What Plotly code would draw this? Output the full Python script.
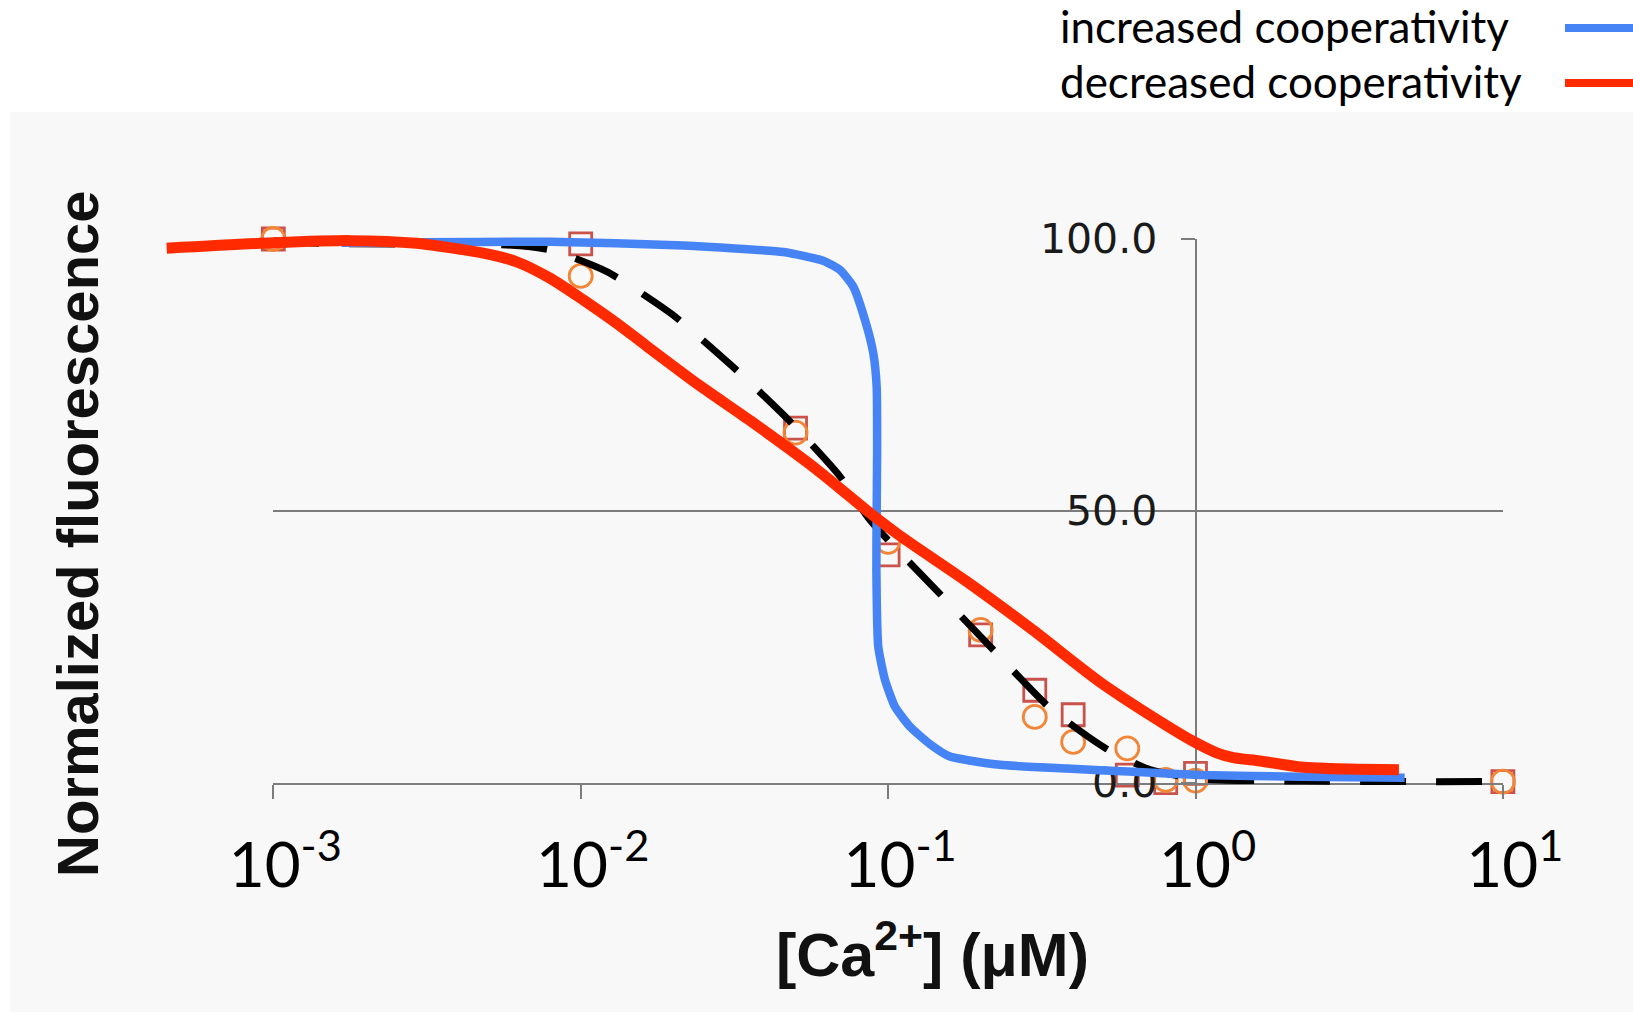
import plotly.graph_objects as go

# ---------------- data ----------------
conc_markers = [0.001, 0.01, 0.05, 0.1, 0.2, 0.3, 0.4, 0.6, 0.8, 1.0, 2.5, 10.0]
squares_y = [100.0, 99.1, 65.2, 41.9, 27.2, 17.0, 12.5, 1.4, 0.0, 1.7, -0.6, 0.2]
circles_y = [100.0, 93.2, 64.4, 44.3, 28.1, 12.1, 7.5, 6.3, 0.5, 0.4, -0.5, 0.2]

fit_x = [0.001, 0.001384, 0.005741, 0.007943, 0.01216, 0.01977, 0.03097, 0.0471,
         0.06982, 0.0873, 0.1493, 0.2228, 0.3365, 0.5082, 0.711, 1.035, 2.19, 4.62, 10.0]
fit_y = [99.7, 99.2, 98.9, 98.0, 94.0, 86.2, 76.7, 66.9,
         56.3, 48.3, 34.4, 24.1, 13.7, 6.4, 2.4, 0.7, 0.3, 0.2, 0.2]

inc_x = [0.001667, 0.00794, 0.0216, 0.0456, 0.0615, 0.0698, 0.0771, 0.0841, 0.0895,
         0.0918, 0.0921, 0.0918, 0.0916, 0.0929, 0.0977, 0.1052, 0.1178, 0.1368,
         0.159, 0.2312, 0.3811, 0.6277, 1.034, 2.188, 4.79]
inc_y = [99.3, 99.5, 98.8, 97.6, 96.0, 94.3, 91.2, 85.1, 79.0,
         72.8, 60.6, 50.2, 39.1, 25.0, 18.9, 14.0, 10.3, 7.1,
         4.8, 3.3, 2.6, 2.0, 1.4, 1.1, 0.9]

dec_x = [0.00045, 0.001, 0.001778, 0.002931, 0.004819, 0.006194, 0.007943, 0.01019,
         0.01309, 0.0164, 0.02443, 0.03556, 0.05861, 0.0873, 0.1094, 0.1802,
         0.2968, 0.4891, 0.8057, 0.9838, 1.172, 1.327, 1.621, 2.188, 3.182, 4.59]
dec_y = [98.3, 99.3, 99.7, 99.2, 97.4, 95.8, 92.8, 88.8,
         84.5, 80.3, 73.0, 66.6, 57.6, 49.6, 45.4, 37.0,
         28.0, 18.5, 10.5, 7.6, 5.5, 4.6, 4.0, 2.9, 2.5, 2.4]

x_tickvals = [0.001, 0.01, 0.1, 1, 10]
x_ticktext = ["10<sup>-3</sup>", "10<sup>-2</sup>", "10<sup>-1</sup>", "10<sup>0</sup>", "10<sup>1</sup>"]
y_tickvals = [0, 50, 100]
y_ticktext = ["0.0", "50.0", "100.0"]

legend_names = ["increased cooperativity", "decreased cooperativity"]

# ---------------- layout geometry ----------------
W, H = 1633, 1012
X0PX, DEC = 273.3, 307.4      # pixel of 10^-3 and pixels per decade
Y0PX, PXU = 782.7, 5.437      # pixel of y=0 and pixels per unit

BLUE = "#4684F6"
RED = "#FF2A00"
SQ_COL = "#C9524A"
CI_COL = "#F28536"
AXIS_COL = "#7c7c7c"

fig = go.Figure()

# markers on the visible axes subplot
fig.add_trace(go.Scatter(x=conc_markers, y=squares_y, mode="markers", cliponaxis=False,
                         marker=dict(symbol="square-open", size=22, color=SQ_COL,
                                     line=dict(width=2.8, color=SQ_COL)),
                         showlegend=False, xaxis="x", yaxis="y"))
fig.add_trace(go.Scatter(x=conc_markers, y=circles_y, mode="markers", cliponaxis=False,
                         marker=dict(symbol="circle-open", size=23, color=CI_COL,
                                     line=dict(width=2.8, color=CI_COL)),
                         showlegend=False, xaxis="x", yaxis="y"))

# curves on an overlay subplot sharing the same scale but covering the full page
fig.add_trace(go.Scatter(x=fit_x, y=fit_y, mode="lines",
                         line=dict(color="black", width=7, dash="46px,30px", shape="spline", smoothing=0.6),
                         showlegend=False, xaxis="x2", yaxis="y2"))
fig.add_trace(go.Scatter(x=inc_x, y=inc_y, mode="lines", name=legend_names[0],
                         line=dict(color=BLUE, width=8.5, shape="spline", smoothing=0.5),
                         showlegend=False, xaxis="x2", yaxis="y2"))
fig.add_trace(go.Scatter(x=dec_x, y=dec_y, mode="lines", name=legend_names[1],
                         line=dict(color=RED, width=11, shape="spline", smoothing=0.7),
                         showlegend=False, xaxis="x2", yaxis="y2"))

xd0 = X0PX / W
xd1 = (X0PX + 4 * DEC) / W
yd0 = 1 - Y0PX / H
yd1 = 1 - (Y0PX - 100 * PXU) / H

fig.update_layout(
    width=W, height=H,
    margin=dict(l=0, r=0, t=0, b=0, autoexpand=False),
    paper_bgcolor="white", plot_bgcolor="rgba(0,0,0,0)",
    xaxis=dict(type="log", domain=[xd0, xd1], range=[-3, 1], anchor="y", automargin=False,
               showline=True, linecolor=AXIS_COL, linewidth=2,
               ticks="outside", ticklen=14, tickwidth=2, tickcolor=AXIS_COL,
               tickvals=x_tickvals, ticktext=x_ticktext,
               tickfont=dict(family="Lato", size=62, color="black"),
               ticklabelstandoff=14, ticklabelshift=12,
               showgrid=False, zeroline=False),
    yaxis=dict(domain=[yd0, yd1], range=[0, 100], anchor="free", automargin=False,
               position=(X0PX + 3 * DEC) / W,
               showline=True, linecolor=AXIS_COL, linewidth=2,
               ticks="outside", ticklen=14, tickwidth=2, tickcolor=AXIS_COL,
               tickvals=y_tickvals, ticktext=y_ticktext,
               tickfont=dict(family="DejaVu Sans", size=41, color="#1a1a1a"),
               ticklabelstandoff=15,
               showgrid=True, gridcolor=AXIS_COL, gridwidth=2, zeroline=False),
    xaxis2=dict(type="log", domain=[0, 1], automargin=False,
                range=[-3 - X0PX / DEC, -3 + (W - X0PX) / DEC],
                visible=False, anchor="y2"),
    yaxis2=dict(domain=[0, 1], range=[(Y0PX - H) / PXU, Y0PX / PXU], automargin=False,
                visible=False, anchor="x2"),
)

# light textured-looking background panel
fig.add_shape(type="rect", xref="paper", yref="paper", x0=10 / W, x1=1, y0=0, y1=1 - 112 / H,
              fillcolor="#f8f8f8", line=dict(width=0), layer="below")

# legend (text then line sample, as in the reference)
leg_rows = [(28, BLUE), (83, RED)]
for name, (ypx, col) in zip(legend_names, leg_rows):
    fig.add_annotation(text=name, xref="paper", yref="paper", x=1058 / W, y=1 - (ypx - 2) / H,
                       xanchor="left", yanchor="middle", showarrow=False,
                       font=dict(family="Lato", size=44, color="black"))
    fig.add_shape(type="line", xref="paper", yref="paper", x0=1565 / W, x1=1.02,
                  y0=1 - ypx / H, y1=1 - ypx / H, line=dict(color=col, width=8))

# axis titles
fig.add_annotation(text="<b>Normalized fluorescence</b>", xref="paper", yref="paper",
                   x=77 / W, y=1 - 534 / H, textangle=-90, showarrow=False,
                   xanchor="center", yanchor="middle",
                   font=dict(family="Liberation Sans", size=58, color="#111111"))
fig.add_annotation(text="<b>[Ca<sup>2+</sup>] (μM)</b>", xref="paper", yref="paper",
                   x=932 / W, y=1 - 950 / H, showarrow=False,
                   xanchor="center", yanchor="middle",
                   font=dict(family="Liberation Sans", size=61, color="#111111"))

fig.write_html("out.html")
